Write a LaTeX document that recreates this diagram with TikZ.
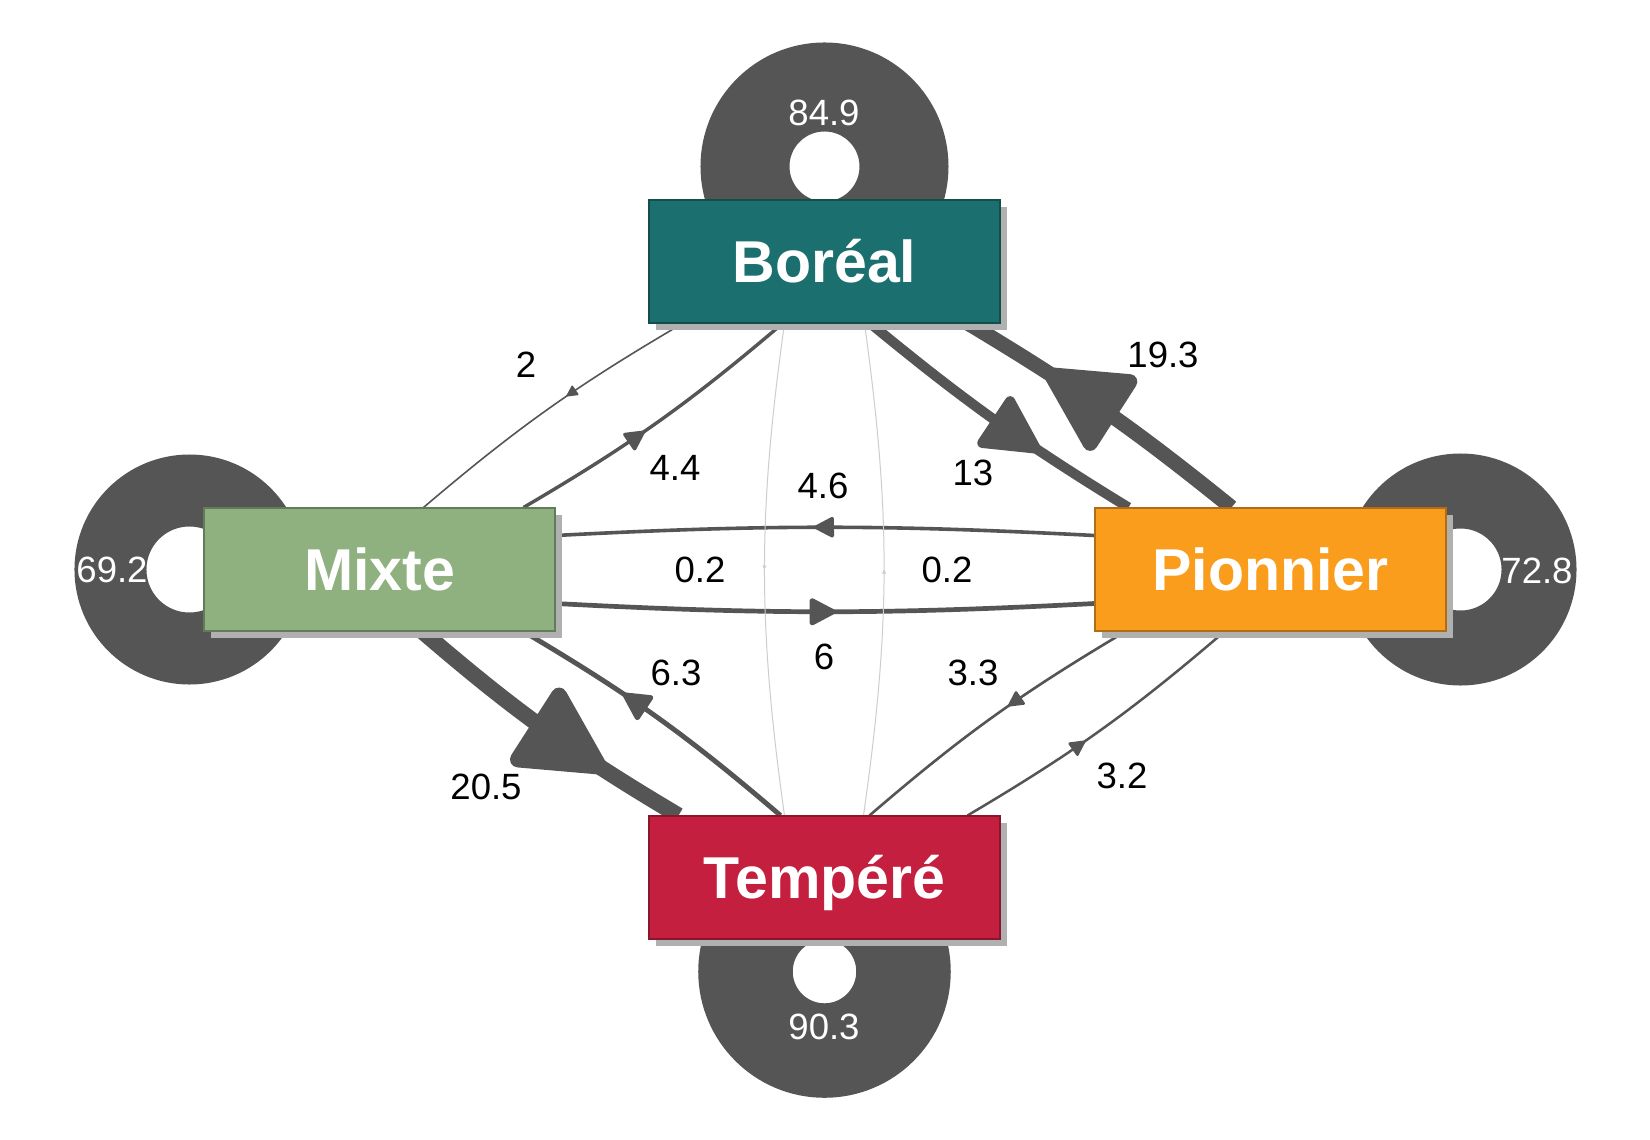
\documentclass[tikz,border=0pt]{standalone}
\usepackage{fontspec}
\setmainfont{Liberation Sans}
\usetikzlibrary{arrows.meta,decorations.markings,shadows}
\definecolor{edgegray}{RGB}{85,85,85}
\definecolor{faintgray}{RGB}{205,205,205}
\definecolor{shadowgray}{RGB}{176,176,176}
\definecolor{borealc}{RGB}{27,112,111}
\definecolor{mixtec}{RGB}{143,176,127}
\definecolor{pionnierc}{RGB}{250,157,28}
\definecolor{temperec}{RGB}{197,31,64}
\pgfdeclarelayer{bg}
\pgfsetlayers{bg,main}

\begin{document}
\begin{tikzpicture}[
 biome/.style={rectangle,minimum width=3.51cm,minimum height=1.23cm,inner sep=0pt,
   text height=12pt,text depth=0pt,
   draw=#1!70!black,line width=0.3pt,fill=#1,text=white,
   font=\fontsize{16.8}{20}\selectfont\bfseries,
   drop shadow={shadow xshift=0.07cm,shadow yshift=-0.07cm,fill=shadowgray,opacity=1}},
 lab/.style={font=\fontsize{10.4}{12}\selectfont,inner sep=0pt},
 looplab/.style={lab,text=white},
 ring/.style={draw=edgegray,line width=#1},
 flow/.style n args={3}{draw=edgegray,line width=#1,postaction={decorate},
   decoration={markings,mark=at position #2 with {\arrow{Triangle[length=#3,width=#3,round]}}}},
 faint/.style={draw=faintgray,line width=0.01cm,postaction={decorate},
   decoration={markings,mark=at position 0.5 with {\arrow{Triangle[length=0.04cm,width=0.04cm]}}}}]
\useasboundingbox (0,0) rectangle (16.5,-11.4);

% states
\node[biome=borealc] (boreal) at (8.245,-2.615) {Boréal};
\node[biome=mixtec] (mixte) at (3.795,-5.695) {Mixte};
\node[biome=pionnierc] (pionnier) at (12.705,-5.695) {Pionnier};
\node[biome=temperec] (tempere) at (8.245,-8.775) {Tempéré};

\begin{pgfonlayer}{bg}
\fill[white] (0,0) rectangle (16.5,-11.4);
% self loops
\draw[ring=0.89cm] ([yshift=0.33cm]boreal.north) circle (0.795);
\draw[ring=0.72cm] ([xshift=-0.14cm]mixte.west) circle (0.79);
\draw[ring=0.75cm] ([xshift=0.14cm]pionnier.east) circle (0.785);
\draw[ring=0.945cm] ([yshift=-0.32cm]tempere.south) circle (0.79);
% transitions
\draw[flow={0.016cm}{0.43}{0.12cm}] ([xshift=-1.42cm]boreal.south) to[bend right=5] ([xshift=0.44cm]mixte.north);
\draw[flow={0.034cm}{0.45}{0.22cm}] ([xshift=1.44cm]mixte.north) to[bend right=5] ([xshift=-0.42cm]boreal.south);
\draw[flow={0.10cm}{0.67}{0.64cm}] ([xshift=0.46cm]boreal.south) to[bend right=4] ([xshift=-1.42cm]pionnier.north);
\draw[flow={0.15cm}{0.72}{0.94cm}] ([xshift=-0.39cm]pionnier.north) to[bend right=4] ([xshift=1.44cm]boreal.south);
\draw[flow={0.16cm}{0.73}{0.98cm}] ([xshift=0.43cm]mixte.south) to[bend right=5] ([xshift=-1.46cm]tempere.north);
\draw[flow={0.049cm}{0.63}{0.31cm}] ([xshift=-0.44cm]tempere.north) to[bend right=5] ([xshift=1.44cm]mixte.south);
\draw[flow={0.026cm}{0.44}{0.17cm}] ([xshift=-1.45cm]pionnier.south) to[bend right=5] ([xshift=0.45cm]tempere.north);
\draw[flow={0.025cm}{0.44}{0.17cm}] ([xshift=1.43cm]tempere.north) to[bend right=5] ([xshift=-0.46cm]pionnier.south);
\draw[flow={0.036cm}{0.52}{0.22cm}] ([yshift=0.34cm]pionnier.west) to[bend right=3] ([yshift=0.34cm]mixte.east);
\draw[flow={0.047cm}{0.52}{0.29cm}] ([yshift=-0.34cm]mixte.east) to[bend right=3] ([yshift=-0.34cm]pionnier.west);
\draw[faint] ([xshift=-0.4cm]boreal.south) to[bend right=8] ([xshift=-0.4cm]tempere.north);
\draw[faint] ([xshift=0.39cm]tempere.north) to[bend right=8] ([xshift=0.4cm]boreal.south);
\end{pgfonlayer}

% weights
\node[lab] (w2) at (5.26,-3.65) {2};
\node[lab] (w44) at (6.75,-4.68) {4.4};
\node[lab] (w46) at (8.23,-4.86) {4.6};
\node[lab] (w13) at (9.73,-4.73) {13};
\node[lab] (w193) at (11.63,-3.55) {19.3};
\node[lab] (w02a) at (7.00,-5.70) {0.2};
\node[lab] (w02b) at (9.47,-5.70) {0.2};
\node[lab] (w6) at (8.24,-6.57) {6};
\node[lab] (w63) at (6.76,-6.73) {6.3};
\node[lab] (w205) at (4.86,-7.87) {20.5};
\node[lab] (w33) at (9.73,-6.73) {3.3};
\node[lab] (w32) at (11.22,-7.76) {3.2};
\node[looplab] (r1) at (8.24,-1.13) {84.9};
\node[looplab] (r2) at (1.12,-5.70) {69.2};
\node[looplab] (r3) at (15.37,-5.71) {72.8};
\node[looplab] (r4) at (8.24,-10.27) {90.3};
\end{tikzpicture}
\end{document}
